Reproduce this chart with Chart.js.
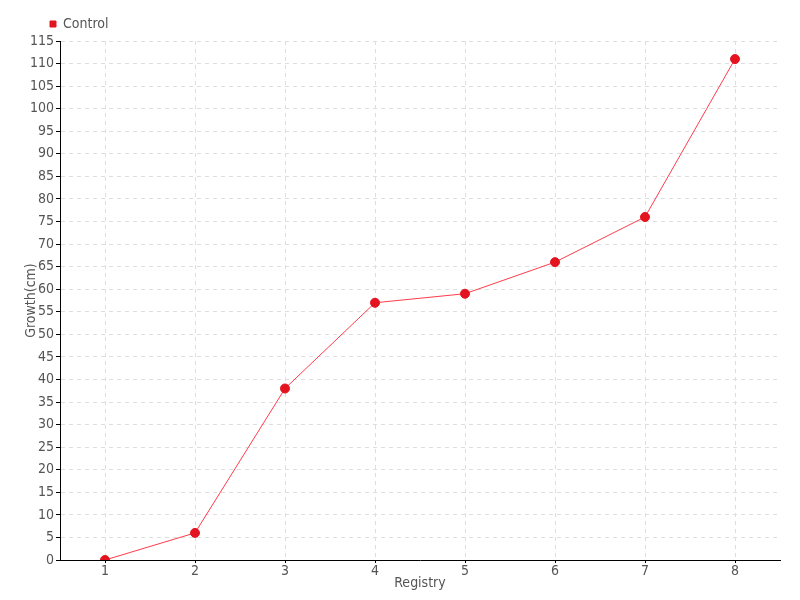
<!DOCTYPE html>
<html>
<head>
<meta charset="utf-8">
<script src="https://cdn.jsdelivr.net/npm/chart.js@4/dist/chart.umd.min.js"></script>
<style>
html,body{margin:0;padding:0;background:#fff;}
#wrap{width:800px;height:600px;}
</style>
</head>
<body>
<div id="wrap"><canvas id="c" width="800" height="600"></canvas></div>
<script>
const categories = ['1','2','3','4','5','6','7','8'];
const controlValues = [0, 6, 38, 57, 59, 66, 76, 111];
const seriesName = 'Control';
const xTitle = 'Registry';
const yTitle = 'Growth(cm)';

const FONT = "'DejaVu Sans Condensed', 'DejaVu Sans', sans-serif";
const TXT = '#555555';

const legendShift = {
  id: 'legendShift',
  afterLayout(chart) {
    if (chart.legend) { chart.legend.left = 42; }
  }
};

new Chart(document.getElementById('c'), {
  type: 'line',
  data: {
    labels: categories,
    datasets: [{
      label: seriesName,
      data: controlValues,
      borderColor: 'rgba(255,50,65,0.95)',
      backgroundColor: '#e3141f',
      borderWidth: 1,
      pointRadius: 4.5,
      pointBackgroundColor: '#e3141f',
      pointBorderColor: '#e3141f',
      pointBorderWidth: 1,
      tension: 0,
      fill: false
    }]
  },
  plugins: [legendShift],
  options: {
    responsive: false,
    animation: false,
    layout: { padding: { left: 23, right: 20, top: 9, bottom: 8 } },
    plugins: {
      legend: {
        display: true,
        position: 'top',
        align: 'start',
        labels: {
          usePointStyle: true,
          pointStyle: 'rect',
          boxWidth: 6,
          boxHeight: 6,
          padding: 8,
          color: TXT,
          font: { family: FONT, size: 14 }
        }
      },
      tooltip: { enabled: false }
    },
    scales: {
      x: {
        type: 'category',
        offset: true,
        afterFit(scale) { scale.height = 32; },
        border: { display: true, color: '#000', width: 1, dash: [4, 4] },
        grid: {
          offset: false,
          color: '#dedede',
          tickColor: '#000',
          tickLength: 3,
          tickBorderDash: []
        },
        ticks: { color: TXT, font: { family: FONT, size: 14 }, padding: 0 },
        title: { display: true, text: xTitle, color: TXT, font: { family: FONT, size: 14 }, padding: { top: 0, bottom: 0 } }
      },
      y: {
        min: 0,
        max: 115,
        afterFit(scale) { scale.width = 37; },
        border: { display: true, color: '#000', width: 1, dash: [4, 4] },
        grid: {
          color: '#dedede',
          tickColor: '#000',
          tickLength: 4,
          tickBorderDash: []
        },
        ticks: { stepSize: 5, color: TXT, font: { family: FONT, size: 14 }, padding: 2, autoSkip: false },
        title: { display: true, text: yTitle, color: TXT, font: { family: FONT, size: 14 }, padding: { top: 0, bottom: 4 } }
      }
    }
  }
});
</script>
</body>
</html>
